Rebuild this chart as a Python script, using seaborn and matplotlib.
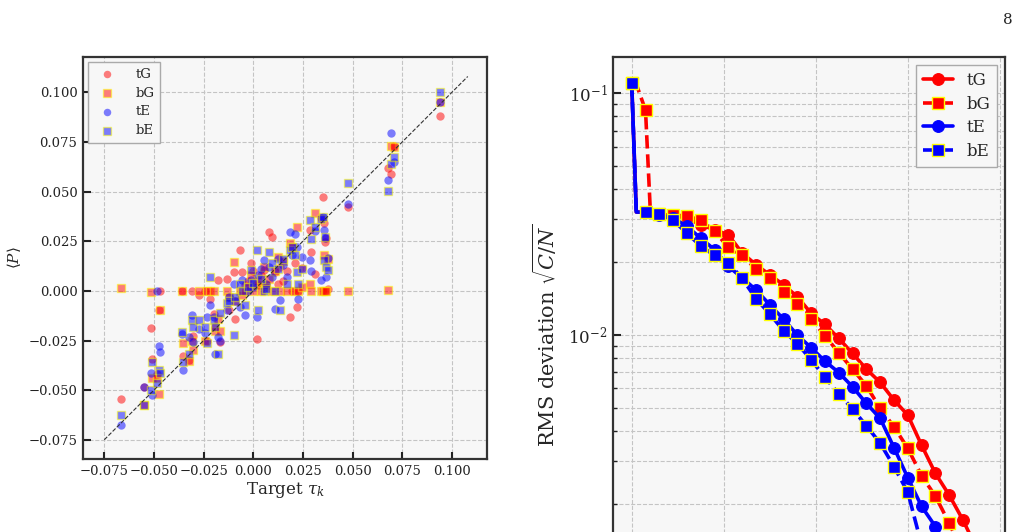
import numpy as np
import pandas as pd
import matplotlib
matplotlib.use("Agg")
import matplotlib.pyplot as plt
import seaborn as sns

# ---- scatter data (units of 1e-3): shared targets and four estimates
tau = [-66.4, -55.2, -51.5, -50.8, -47.5, -47.0, -48.5, -36.0, -35.5, -32.5,
       -31.0, -30.5, -27.5, -24.5, -23.5, -21.6, -20.0, -19.5, -17.5, -16.5,
       -13.2, -12.0, -9.9, -9.0, -6.5, -5.5, -4.0, -2.5, -1.0, 0.0,
       1.8, 2.5, 4.0, 5.2, 6.5, 7.7, 9.4, 11.0, 12.5, 13.6,
       15.0, 17.0, 18.6, 19.5, 21.1, 22.0, 22.5, 24.5, 28.7, 29.0,
       31.2, 34.0, 35.3, 35.8, 36.2, 36.8, 37.5, 47.6, 68.0, 69.5,
       71.0, 94.0]
p_tG = [-54.6, -48.4, -18.5, -34.1, -9.7, 0.0, -42.0, 0.0, -33.0, -35.0,
        0.0, -22.9, -2.2, 0.0, -25.0, -4.0, -11.4, -18.0, 5.4, -26.0,
        6.2, -9.7, 9.6, -14.0, 20.5, 9.6, 3.0, 5.0, 13.8, 10.0,
        -24.0, 3.7, 8.0, 10.4, 2.0, 29.7, 27.2, 9.6, 3.7, 12.1,
        5.0, 10.0, -13.1, 0.0, 13.8, -8.1, 0.0, 11.3, 30.6, 19.7,
        8.7, 36.5, 47.2, 34.3, 24.7, 26.4, 1.0, 42.0, 61.7, 59.1,
        73.0, 88.2]
p_bG = [1.5, -57.3, -0.8, -44.0, -51.8, -9.7, -44.0, 0.0, -26.5, -35.5,
        -25.0, -30.0, 0.0, -25.0, 0.0, 0.0, 0.0, -20.0, -14.0, -20.0,
        0.0, -3.0, 14.6, -5.0, 0.0, -2.0, 0.0, 2.0, 8.0, 0.0,
        3.0, 5.0, 0.0, 12.0, 3.0, 6.0, 0.0, 10.0, 17.0, 0.0,
        15.0, 0.0, 23.9, 22.0, 0.0, 32.3, 0.0, 2.0, 3.7, 0.0,
        39.0, 0.0, 0.0, 18.0, 0.0, 0.0, 16.0, 0.0, 0.4, 73.0,
        72.5, 94.9]
p_tE = [-67.7, -48.4, -41.3, -52.6, -27.9, -30.7, 0.0, -21.5, -40.0, -23.0,
        -12.3, -26.0, -19.0, -21.0, -13.0, -7.2, -13.0, -31.6, -23.0, -25.0,
        -9.7, -3.0, 3.7, -5.0, -8.0, 5.4, -12.3, 0.0, 5.4, 2.0,
        -13.1, 8.0, 11.0, 15.5, 3.7, 12.0, 7.0, -8.9, 16.0, -4.7,
        13.0, 7.0, 29.7, 18.0, 28.9, 22.2, -3.9, 17.0, 15.5, 10.0,
        30.0, 5.4, 37.3, 30.9, 26.4, 7.1, 16.5, 43.6, 55.8, 79.6,
        64.8, 94.9]
p_bE = [-62.4, -57.6, -50.1, -35.8, -40.0, -41.6, -46.5, -20.7, -35.8, -31.6,
        -14.8, -18.2, -14.8, -18.0, -26.5, 7.0, -14.8, -18.0, -31.6, -11.0,
        -6.0, -5.0, -22.4, -3.0, 3.7, 0.0, -7.2, 2.0, 10.4, 4.0,
        20.5, -9.7, 6.0, 0.0, 1.0, 19.6, 13.8, 0.0, 11.0, -9.7,
        16.0, 3.7, 20.5, 22.0, 18.0, 9.6, 3.7, 11.0, 35.6, 25.9,
        32.3, 36.0, 37.0, 15.5, 27.2, 12.1, 10.4, 54.1, 50.4, 64.0,
        67.5, 100.3]
diag_range = [-0.075, 0.108]

# ---- convergence data
x_tG = [0, 1, 3, 6, 9, 12, 15, 18, 21, 24, 27, 30, 33, 36, 39, 42, 45, 48,
        51, 54, 57, 60, 63, 66, 69, 72, 75]
y_tG = [0.110, 0.0322, 0.0321, 0.0316, 0.0311, 0.0304, 0.0285, 0.0272, 0.0259,
        0.0218, 0.0195, 0.0177, 0.0161, 0.01436, 0.01226, 0.01104, 0.00966,
        0.00837, 0.00721, 0.00635, 0.00537, 0.00465, 0.00349, 0.00267, 0.00217,
        0.00171, 0.0013]
x_bG = [0, 1, 3, 4, 6, 9, 12, 15, 18, 21, 24, 27, 30, 33, 36, 39, 42, 45, 48,
        51, 54, 57, 60, 63, 66, 69, 72]
y_bG = [0.110, 0.1089, 0.0850, 0.0340, 0.0316, 0.0314, 0.0309, 0.0299, 0.0268,
        0.0230, 0.0213, 0.0187, 0.0172, 0.0151, 0.01339, 0.01161, 0.00991,
        0.00842, 0.00721, 0.00615, 0.00496, 0.00416, 0.00339, 0.00261, 0.00215,
        0.00166, 0.00125]
x_tE = [0, 1, 3, 6, 9, 12, 15, 18, 21, 24, 27, 30, 33, 36, 39, 42, 45, 48,
        51, 54, 57, 60, 63, 66, 69, 72]
y_tE = [0.110, 0.0322, 0.0321, 0.0314, 0.0304, 0.0281, 0.0251, 0.0225, 0.0192,
        0.0172, 0.01535, 0.01331, 0.01161, 0.00997, 0.00884, 0.00778, 0.00698,
        0.00609, 0.00520, 0.00451, 0.00341, 0.00256, 0.00195, 0.00161, 0.0012,
        0.0008]
x_bE = [0, 1, 3, 6, 9, 12, 15, 18, 21, 24, 27, 30, 33, 36, 39, 42, 45, 48,
        51, 54, 57, 60, 63, 66]
y_bE = [0.110, 0.0322, 0.0321, 0.0316, 0.0298, 0.0263, 0.0233, 0.0213, 0.0199,
        0.0171, 0.0141, 0.0122, 0.0104, 0.00918, 0.00788, 0.00666, 0.00570,
        0.00493, 0.00420, 0.00356, 0.00285, 0.00223, 0.00135, 0.0008]

sns.set_theme(style="whitegrid", rc={
    "axes.facecolor": "#f7f7f7",
    "axes.edgecolor": "#333333",
    "axes.linewidth": 1.6,
    "grid.color": "#c4c4c4",
    "grid.linestyle": "--",
    "grid.linewidth": 0.8,
    "xtick.bottom": True,
    "ytick.left": True,
    "xtick.direction": "in",
    "ytick.direction": "in",
    "xtick.major.size": 5,
    "ytick.major.size": 6,
    "xtick.major.width": 1.5,
    "ytick.major.width": 1.5,
    "ytick.minor.size": 3,
    "ytick.minor.width": 1.0,
    "xtick.color": "#222222",
    "ytick.color": "#222222",
    "legend.fancybox": False,
    "legend.edgecolor": "#aaaaaa",
    "legend.framealpha": 1.0,
    "legend.facecolor": "#f7f7f7",
})
plt.rcParams["font.family"] = ["DejaVu Serif"]
plt.rcParams["mathtext.fontset"] = "dejavuserif"

fig = plt.figure(figsize=(10.24, 5.32), dpi=100)
ax1 = fig.add_axes([0.0811, 0.1372, 0.3945, 0.7556])
ax2 = fig.add_axes([0.5986, -0.3214, 0.3828, 1.2143])

# ---- left: scatter
t = np.array(tau) / 1000
sc = dict(s=36, alpha=0.5, ax=ax1, zorder=2)
sns.scatterplot(x=t, y=np.array(p_tG) / 1000, color="red", marker="o",
                linewidth=0, label="tG", **sc)
sns.scatterplot(x=t, y=np.array(p_bG) / 1000, color="red", marker="s",
                edgecolor="yellow", linewidth=1, label="bG", **sc)
sns.scatterplot(x=t, y=np.array(p_tE) / 1000, color="blue", marker="o",
                linewidth=0, label="tE", **sc)
sns.scatterplot(x=t, y=np.array(p_bE) / 1000, color="blue", marker="s",
                edgecolor="yellow", linewidth=1, label="bE", **sc)
ax1.plot(diag_range, diag_range, ls="--", color="#333333", lw=0.8, zorder=3)
ax1.set_xlim(-0.0857, 0.1177)
ax1.set_ylim(-0.0847, 0.1178)
ticks = np.arange(-0.075, 0.101, 0.025)
ax1.set_xticks(ticks)
ax1.set_yticks(ticks)
ax1.tick_params(labelsize=9.5, pad=4)
ax1.set_xlabel(r"Target $\tau_k$", fontsize=12, labelpad=2)
ax1.set_ylabel(r"$\langle P\rangle$", fontsize=11)
ax1.legend(loc="upper left", fontsize=9.5, borderaxespad=0.4,
           handletextpad=1.2, labelspacing=0.45, markerscale=0.9)

# ---- right: convergence curves
def marks(xs):
    return [i for i, v in enumerate(xs) if v % 3 == 0]

sns.lineplot(x=x_tG, y=y_tG, ax=ax2, color="red", lw=2.6, ls="-",
             marker="o", markersize=8.5, markeredgecolor="red",
             markevery=marks(x_tG), label="tG")
sns.lineplot(x=x_bG, y=y_bG, ax=ax2, color="red", lw=2.6, ls="--",
             marker="s", markersize=8, markeredgecolor="yellow",
             markeredgewidth=1.0, markevery=marks(x_bG), label="bG")
sns.lineplot(x=x_tE, y=y_tE, ax=ax2, color="blue", lw=2.6, ls="-",
             marker="o", markersize=8.5, markeredgecolor="blue",
             markevery=marks(x_tE), label="tE")
sns.lineplot(x=x_bE, y=y_bE, ax=ax2, color="blue", lw=2.6, ls="--",
             marker="s", markersize=8, markeredgecolor="yellow",
             markeredgewidth=1.0, markevery=marks(x_bE), label="bE")
ax2.set_yscale("log")
ax2.set_ylim(3e-4, 0.141)
ax2.set_yticks([1e-2, 1e-1])
ax2.set_xlim(-4.07, 81.1)
ax2.set_xticks([0, 20, 40, 60, 80])
ax2.tick_params(axis="x", labelbottom=False)
ax2.grid(True, which="major")
ax2.grid(True, which="minor", axis="y")
ax2.tick_params(axis="y", labelsize=12, pad=4)
ax2.set_ylabel(r"RMS deviation $\sqrt{C/N}$", fontsize=15)
ax2.yaxis.set_label_coords(-0.138, 0.57)
ax2.legend(loc="upper right", fontsize=12, borderaxespad=0.5,
           handlelength=1.8, handletextpad=0.8, labelspacing=0.4)

fig.text(0.989, 0.975, "8", fontsize=11, ha="right", va="top")

fig.savefig("out.png", dpi=100, facecolor="white")
